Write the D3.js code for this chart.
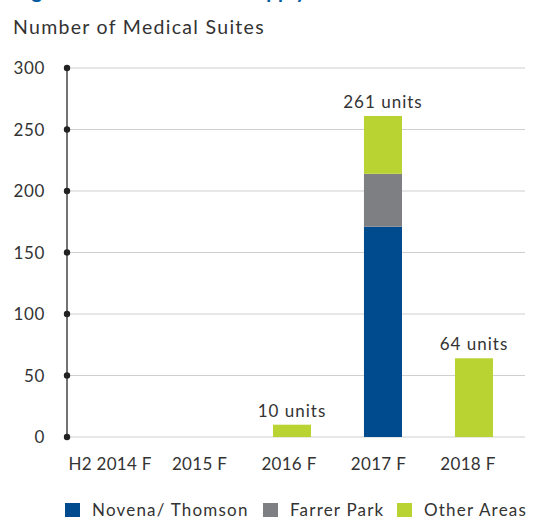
<!DOCTYPE html>
<html><head><meta charset="utf-8">
<script src="https://cdn.jsdelivr.net/npm/d3@7"></script>
<style>body{margin:0;background:#fff;} text{font-family:Lato,"Open Sans",sans-serif;}</style>
</head><body>
<svg id="c" width="540" height="517"></svg>
<script>
const categories = ["H2 2014 F","2015 F","2016 F","2017 F","2018 F"];
const seriesNames = ["Novena/ Thomson","Farrer Park","Other Areas"];
const novena = [0,0,0,171,0];
const farrer = [0,0,0,43,0];
const other = [0,0,10,47,64];
const totalLabels = ["","","10 units","261 units","64 units"];
const yTicks = [0,50,100,150,200,250,300];
const colors = ["#004b8d","#7e7f83","#b9d432"];
const txt = "#333";

const svg = d3.select("#c");
const x = d3.scaleBand().domain(categories).range([67,517]).paddingInner(0.582).paddingOuter(0.264);
const y = d3.scaleLinear().domain([0,300]).range([437,68]);

svg.append("text").attr("x",14).attr("y",-2).attr("fill","#005aa0").attr("font-weight","bold").attr("font-size",20)
  .attr("textLength",292).attr("lengthAdjust","spacing").text("Figure 5: Medical Suites Supply");
svg.append("text").attr("x",13).attr("y",34).attr("fill",txt).attr("font-size",19.5).attr("letter-spacing",1.3).text("Number of Medical Suites");

// grid
svg.append("g").selectAll("line").data(yTicks).join("line")
  .attr("x1",67).attr("x2",525).attr("y1",d=>y(d)).attr("y2",d=>y(d))
  .attr("stroke","#cfcfcf").attr("stroke-width",1);

const data = categories.map((c,i)=>({cat:c, vals:[novena[i],farrer[i],other[i]]}));
const stack = d3.stack().keys([0,1,2]).value((d,k)=>d.vals[k]);
const layers = stack(data);
svg.append("g").selectAll("g").data(layers).join("g").attr("fill",(d,i)=>colors[i])
  .selectAll("rect").data(d=>d).join("rect")
  .attr("x",d=>x(d.data.cat)).attr("width",x.bandwidth())
  .attr("y",d=>y(d[1])).attr("height",d=>y(d[0])-y(d[1]));

// axis
svg.append("line").attr("x1",67).attr("x2",67).attr("y1",y(300)).attr("y2",y(0)).attr("stroke","#444").attr("stroke-width",1.5);
svg.append("g").selectAll("circle").data(yTicks).join("circle")
  .attr("cx",67).attr("cy",d=>y(d)).attr("r",3.2).attr("fill","#222");
svg.append("g").selectAll("text").data(yTicks).join("text")
  .attr("x",45).attr("y",d=>y(d)+6).attr("text-anchor","end").attr("fill",txt).attr("font-size",17).attr("letter-spacing",0.6).text(d=>d);

svg.append("g").selectAll("text").data(categories).join("text")
  .attr("x",(d,i)=>x(d)+x.bandwidth()/2 - i*1.5).attr("y",470).attr("text-anchor","middle").attr("fill",txt).attr("font-size",17).attr("letter-spacing",0.3).text(d=>d);

// totals
svg.append("g").selectAll("text").data(data.map((d,i)=>({cat:d.cat,t:d.vals[0]+d.vals[1]+d.vals[2],l:totalLabels[i]}))).join("text")
  .attr("x",d=>x(d.cat)+x.bandwidth()/2).attr("y",d=>y(d.t)-8).attr("text-anchor","middle").attr("fill",txt).attr("font-size",17).attr("letter-spacing",1).text(d=>d.l);

// legend
const lx = [65,263,397];
const lg = svg.append("g").selectAll("g").data(seriesNames).join("g").attr("transform",(d,i)=>`translate(${lx[i]},503)`);
lg.append("rect").attr("width",15).attr("height",15).attr("fill",(d,i)=>colors[i]);
lg.append("text").attr("x",27).attr("y",13).attr("fill",txt).attr("font-size",17).attr("letter-spacing",1.2).text(d=>d);
</script>
</body></html>
